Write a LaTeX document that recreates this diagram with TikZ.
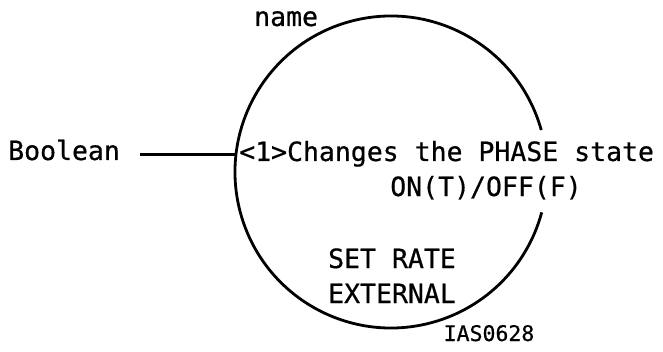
\documentclass[tikz,border=0pt]{standalone}
\usepackage{fontspec}
\usepackage{tikz}
\newfontfamily\monolab[FakeBold=0.6]{DejaVu Sans Mono}

\begin{document}
\begin{tikzpicture}[x=1pt, y=1pt,
  ring/.style={line width=2.8pt},
  lab/.style={inner sep=0pt, font=\monolab\fontsize{26.5}{35}\selectfont}]
\useasboundingbox (0,0) rectangle (663,351);
\coordinate (ctr) at (391,179);
\coordinate (inpt) at ([shift={(173.7:156)}]ctr);
\draw[ring] ([shift={(15.6:156)}]ctr) arc[start angle=15.6, end angle=345, radius=156pt];
\node[lab, anchor=base west] (nm) at (254,325) {name};
\node[lab, anchor=base west] (bool) at (8,191) {Boolean};
\draw[ring] ([xshift=20pt]bool.east |- inpt) -- (inpt);
\node[lab, anchor=base west] (desc) at (239,190) {<1>Changes the PHASE state};
\node[lab, anchor=base] (onoff) at (486,155) {ON(T)/OFF(F)};
\node[lab, anchor=base, align=center] (rate) at (392,48) {SET RATE\\EXTERNAL};
\node[lab, anchor=base, font=\monolab\fontsize{21.5}{25}\selectfont] (code) at (489,10) {IAS0628};
\end{tikzpicture}
\end{document}
